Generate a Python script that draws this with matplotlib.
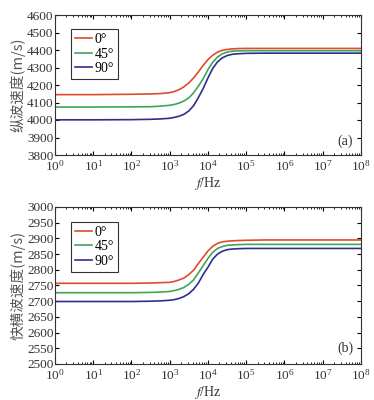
import numpy as np
import matplotlib
matplotlib.use('Agg')
import matplotlib.pyplot as plt
from matplotlib.ticker import LogLocator, MultipleLocator, NullFormatter

# log10 of frequency (Hz) at which the curves were read
log_f = [0, 1, 2, 2.5, 2.75, 3, 3.125, 3.25, 3.375, 3.5, 3.625, 3.75, 3.875, 4,
         4.125, 4.25, 4.375, 4.5, 4.625, 4.75, 5, 5.5, 6, 7, 8]

# (a) P-wave velocity (m/s)
vp_0 = [4145, 4145, 4147, 4149, 4151, 4156, 4163, 4174, 4190, 4212, 4240, 4275, 4312, 4345,
        4370, 4388, 4398, 4403, 4406, 4408, 4409, 4409, 4409, 4409, 4409]
vp_45 = [4074, 4074, 4075, 4076, 4079, 4084, 4089, 4097, 4109, 4127, 4155, 4193, 4236, 4288,
         4330, 4360, 4378, 4388, 4393, 4395, 4396, 4396, 4396, 4396, 4396]
vp_90 = [4001, 4001, 4002, 4004, 4006, 4010, 4015, 4022, 4033, 4052, 4082, 4128, 4180, 4240,
         4295, 4332, 4355, 4368, 4375, 4378, 4381, 4382, 4382, 4382, 4382]

# (b) fast S-wave velocity (m/s)
vs_0 = [2757, 2757, 2757, 2758, 2759, 2760, 2763, 2768, 2774, 2785, 2799, 2820, 2840, 2860,
        2875, 2884, 2889, 2891, 2892, 2893, 2894, 2895, 2895, 2895, 2895]
vs_45 = [2727, 2727, 2727, 2728, 2729, 2731, 2734, 2738, 2744, 2754, 2768, 2790, 2813, 2836,
         2856, 2868, 2874, 2878, 2879, 2880, 2881, 2881, 2881, 2881, 2881]
vs_90 = [2699, 2699, 2699, 2700, 2701, 2703, 2705, 2709, 2715, 2724, 2738, 2758, 2785, 2808,
         2834, 2850, 2859, 2864, 2866, 2867, 2868, 2868, 2868, 2868, 2868]

labels = ['0°', '45°', '90°']
colors = ['#e04a30', '#3fa657', '#2e2e8e']

serif = ['Liberation Serif', 'DejaVu Serif']
cjk = ['Noto Sans CJK SC', 'DejaVu Sans']
plt.rcParams['font.family'] = serif
plt.rcParams['mathtext.fontset'] = 'stix'

fig = plt.figure(figsize=(3.74, 4.0), dpi=100)
ax_a = fig.add_axes([0.147, 0.6125, 0.818, 0.35])
ax_b = fig.add_axes([0.147, 0.09, 0.818, 0.3925])

freq = 10.0 ** np.array(log_f)

panels = [
    (ax_a, [vp_0, vp_45, vp_90], (3800, 4600), 100, '纵波速度(m/s)', '(a)'),
    (ax_b, [vs_0, vs_45, vs_90], (2500, 3000), 50, '快横波速度(m/s)', '(b)'),
]

for ax, series, ylim, step, ylab, tag in panels:
    for vals, lab, c in zip(series, labels, colors):
        ax.plot(freq, vals, color=c, lw=1.2, label=lab)
    ax.set_xscale('log')
    ax.set_xlim(1, 1e8)
    ax.set_ylim(*ylim)
    ax.xaxis.set_major_locator(LogLocator(base=10, numticks=20))
    ax.xaxis.set_minor_locator(LogLocator(base=10, subs=np.arange(2, 10), numticks=20))
    ax.xaxis.set_minor_formatter(NullFormatter())
    ax.yaxis.set_major_locator(MultipleLocator(step))
    ax.tick_params(which='both', direction='in', top=True, right=True,
                   labelsize=9.5, labelcolor='#333333')
    ax.tick_params(axis='y', pad=1)
    ax.tick_params(axis='x', pad=3)
    ax.tick_params(which='major', length=3)
    ax.tick_params(which='minor', length=1.5)
    for sp in ax.spines.values():
        sp.set_linewidth(0.8)
        sp.set_color('#333333')
    ax.set_ylabel(ylab, family=cjk, fontsize=10.5, color='#555555', labelpad=1)
    ax.set_xlabel('$f$/Hz', fontsize=10, color='#333333', labelpad=1)
    ax.text(0.975, 0.1, tag, transform=ax.transAxes, ha='right', va='center',
            fontsize=10, color='#333333')
    leg = ax.legend(loc='upper left', bbox_to_anchor=(0.03, 0.95), fontsize=10,
                    handlelength=1.2, handletextpad=0.2, borderpad=0.3,
                    labelspacing=0.1, fancybox=False, framealpha=1)
    leg.get_frame().set_edgecolor('#333333')
    leg.get_frame().set_linewidth(0.8)

fig.savefig('out.png', dpi=100)
